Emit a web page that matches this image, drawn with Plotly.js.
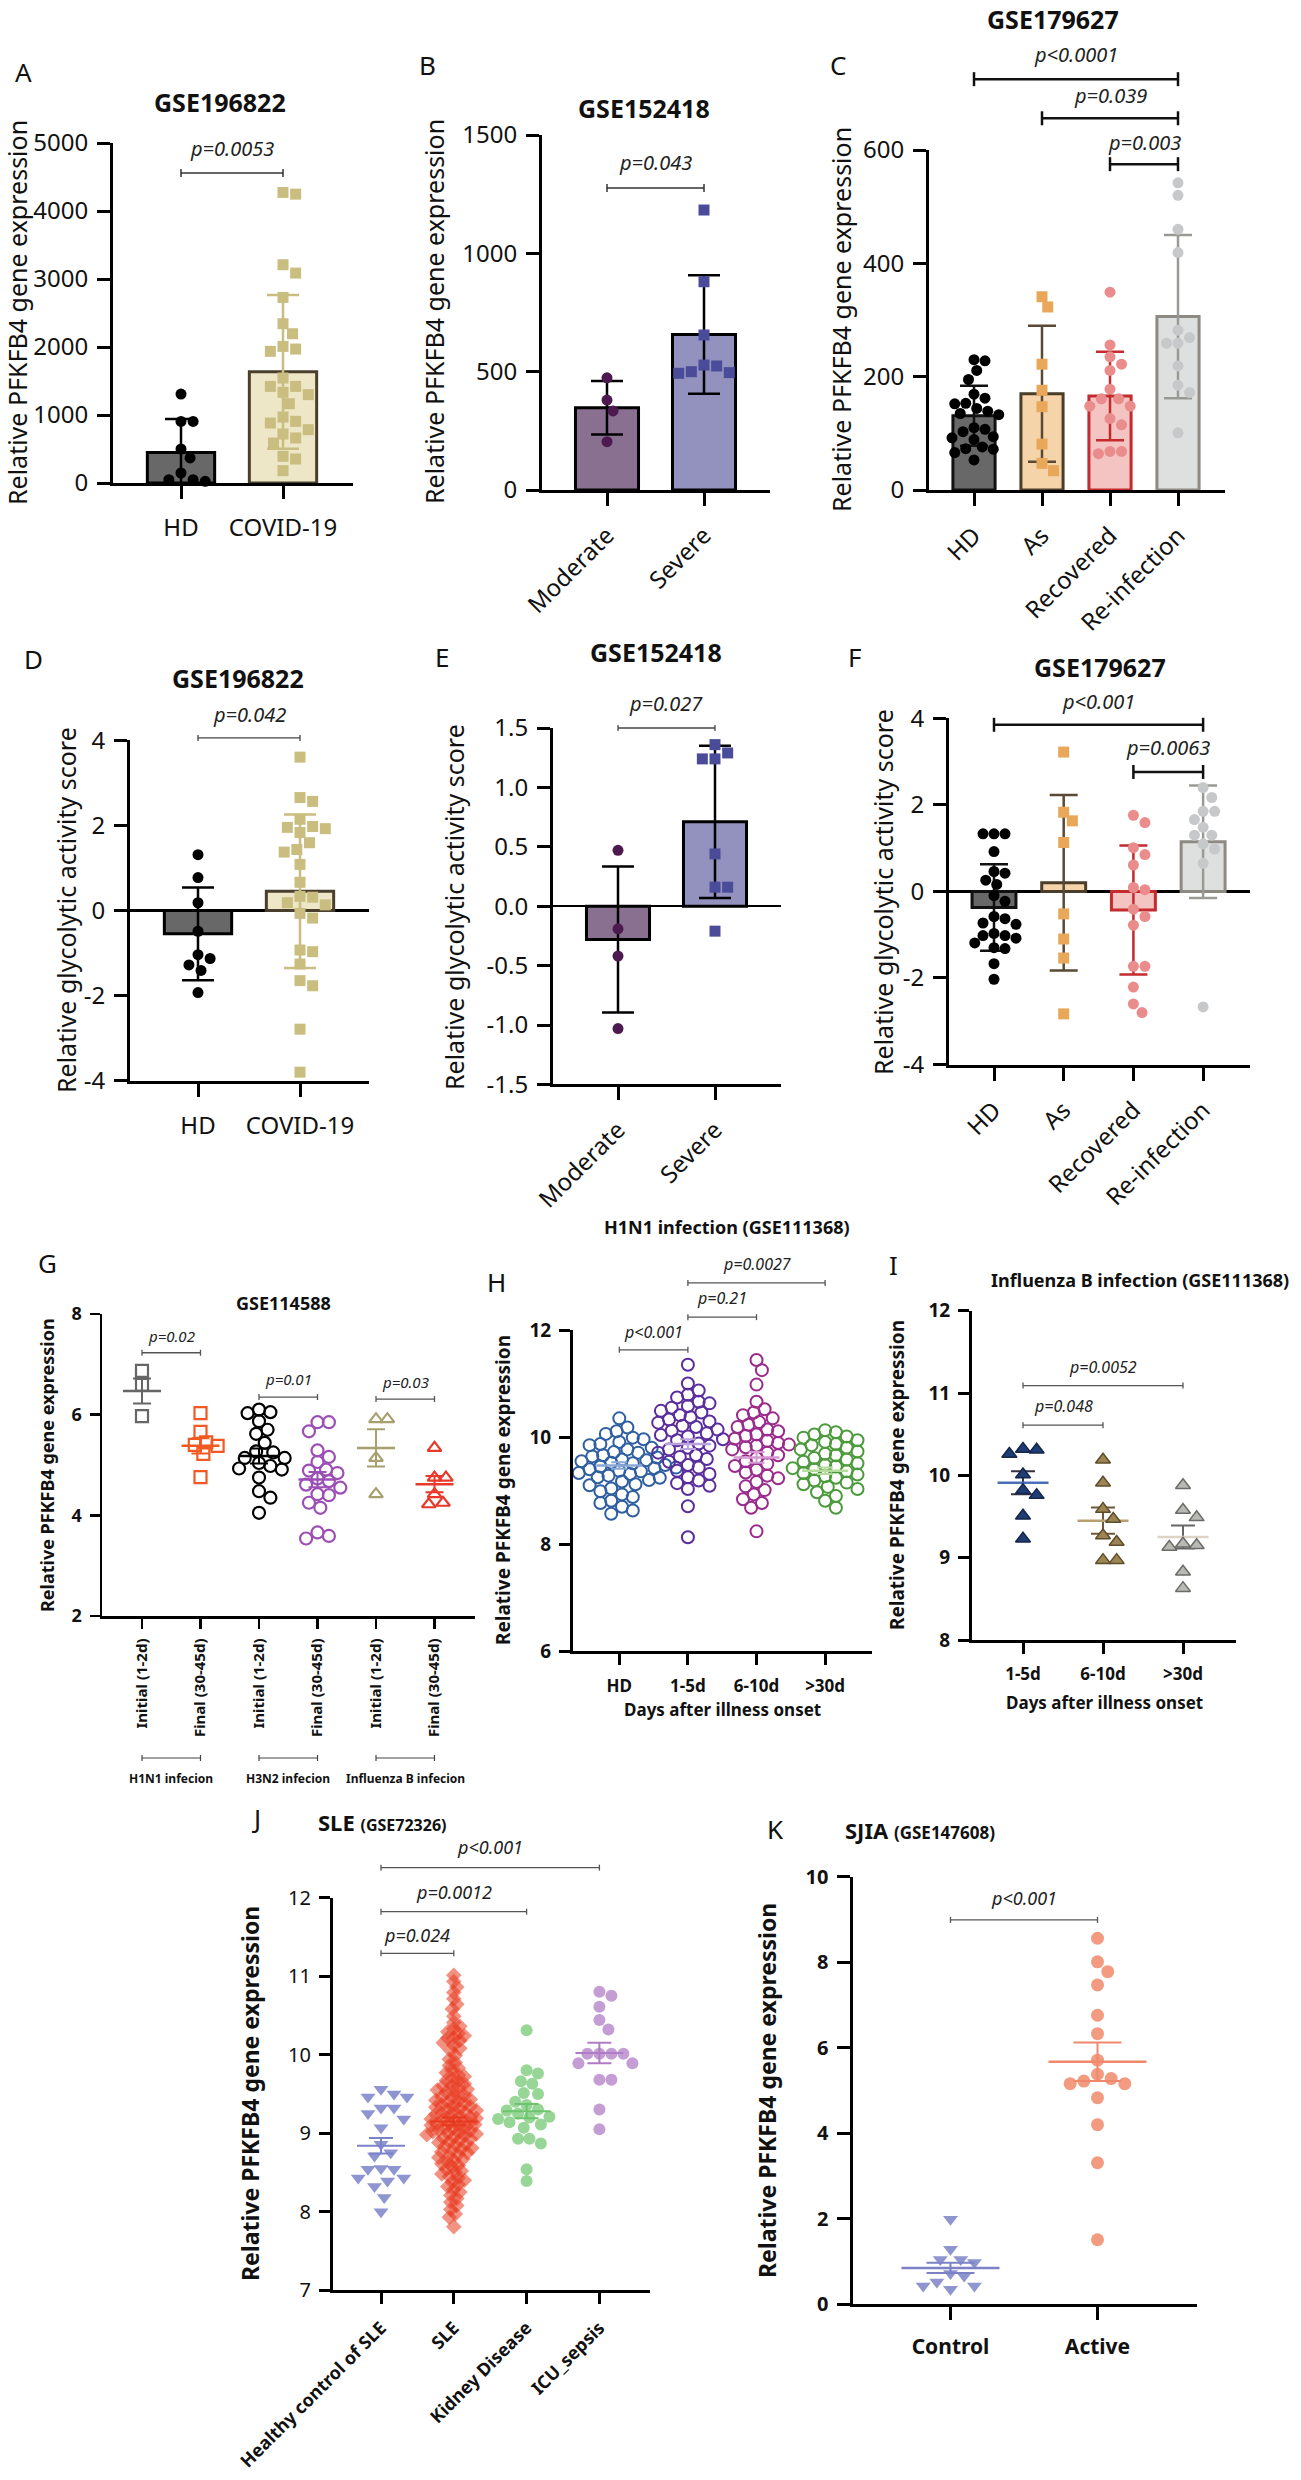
<!DOCTYPE html>
<html><head><meta charset="utf-8">
<script src="https://cdn.plot.ly/plotly-3.0.1.min.js"></script>
<style>html,body{margin:0;padding:0;background:#fff}#chart{width:1301px;height:2480px}</style>
</head><body><div id="chart"></div>
<script>
// ================= DATA =================
// A: GSE196822 PFKFB4
const catA = ['HD', 'COVID-19'];
const meanA = [450, 1635];
const sdA = [490, 1130];
const ptsA_HD = [1308, 906, 906, 500, 368, 147, 49, 49, 25];
const ptsA_COVID = [4273, 4248, 3210, 3087, 2729, 2342, 2195, 2009, 1970, 1936, 1544, 1421, 1421, 1333, 1299, 1166, 970, 907, 882, 784, 720, 662, 588, 392, 353, 181];
const pA = ['p=0.0053'];
// B: GSE152418 PFKFB4
const catB = ['Moderate', 'Severe'];
const meanB = [348, 657];
const sdB = [113, 250];
const ptsB_Mod = [474, 380, 334, 204];
const ptsB_Sev = [1183, 880, 655, 528, 524, 496, 500, 493];
const pB = ['p=0.043'];
// C: GSE179627 PFKFB4
const catC = ['HD', 'As', 'Recovered', 'Re-infection'];
const meanC = [131, 170, 166, 306];
const sdC = [53, 120, 78, 144];
const ptsC_HD = [230, 228, 211, 195, 169, 162, 153, 152, 144, 139, 135, 133, 110, 107, 103, 94, 92, 89, 76, 73, 72, 66, 53];
const ptsC_As = [341, 323, 222, 176, 147, 81, 47, 34];
const ptsC_Rec = [349, 256, 235, 222, 211, 178, 161, 161, 148, 148, 126, 115, 68, 68, 64];
const ptsC_Re = [542, 520, 460, 419, 282, 269, 259, 259, 219, 185, 172, 101];
const pC = ['p<0.0001', 'p=0.039', 'p=0.003'];
// D: GSE196822 glycolytic score
const catD = ['HD', 'COVID-19'];
const meanD = [-0.55, 0.45];
const sdD = [1.09, 1.8];
const ptsD_HD = [1.31, 0.77, 0.18, -0.49, -1.04, -1.13, -1.28, -1.41, -1.93];
const ptsD_COVID = [3.6, 2.65, 2.56, 2.14, 1.97, 1.95, 1.92, 1.83, 1.59, 1.43, 1.37, 1.08, 0.66, 0.33, 0.31, 0.18, 0.13, -0.07, -0.18, -0.93, -0.97, -1.26, -1.65, -1.77, -2.79, -3.8];
const pD = ['p=0.042'];
// E: GSE152418 glycolytic score
const catE = ['Moderate', 'Severe'];
const meanE = [-0.28, 0.71];
const sdE = [0.615, 0.64];
const ptsE_Mod = [0.47, -0.19, -0.42, -1.03];
const ptsE_Sev = [1.36, 1.24, 1.29, 1.24, 0.44, 0.16, 0.16, -0.21];
const pE = ['p=0.027'];
// F: GSE179627 glycolytic score
const catF = ['HD', 'As', 'Recovered', 'Re-infection'];
const meanF = [-0.37, 0.2, -0.43, 1.15];
const sdF = [1.0, 2.03, 1.49, 1.3];
const ptsF_HD = [1.33, 1.33, 1.33, 0.92, 0.46, 0.42, 0.26, 0.16, -0.10, -0.23, -0.58, -0.63, -0.73, -0.76, -0.97, -1.02, -1.02, -1.08, -1.19, -1.30, -1.32, -1.67, -2.03];
const ptsF_As = [3.22, 1.83, 1.63, 1.13, -0.52, -1.10, -1.54, -2.83];
const ptsF_Rec = [1.76, 1.59, 1.01, 0.85, 0.61, 0.09, 0.04, -0.41, -0.58, -0.78, -1.73, -1.73, -2.21, -2.6, -2.8];
const ptsF_Re = [2.40, 2.17, 1.85, 1.85, 1.66, 1.48, 1.30, 1.30, 1.10, 0.98, 0.65, -2.67];
const pF = ['p<0.001', 'p=0.0063'];
// G: GSE114588
const catG = ['Initial (1-2d)', 'Final (30-45d)', 'Initial (1-2d)', 'Final (30-45d)', 'Initial (1-2d)', 'Final (30-45d)'];
const groupsG = ['H1N1 infecion', 'H3N2 infecion', 'Influenza B infecion'];
const meanG = [6.47, 5.38, 5.18, 4.71, 5.34, 4.62];
const semG = [0.25, 0.15, 0.15, 0.15, 0.37, 0.16];
const ptsG0 = [6.87, 6.59, 5.97];
const ptsG1 = [6.03, 5.66, 5.45, 5.40, 5.38, 5.22, 4.76];
const ptsG2 = [6.10, 6.05, 6.03, 5.87, 5.70, 5.62, 5.44, 5.27, 5.25, 5.14, 5.14, 5.04, 4.98, 4.93, 4.91, 4.75, 4.48, 4.35, 4.05];
const ptsG3 = [5.85, 5.85, 5.67, 5.29, 5.16, 5.06, 4.91, 4.89, 4.84, 4.73, 4.68, 4.61, 4.55, 4.42, 4.40, 4.25, 4.15, 3.66, 3.59, 3.54];
const ptsG4 = [5.91, 5.91, 5.14, 4.42];
const ptsG5 = [5.34, 4.75, 4.75, 4.42, 4.22, 4.25];
const pG = ['p=0.02', 'p=0.01', 'p=0.03'];
// H: H1N1 GSE111368
const catH = ['HD', '1-5d', '6-10d', '>30d'];
const meanH = [9.47, 9.87, 9.62, 9.37];
const semH = [0.06, 0.09, 0.1, 0.06];
const ptsH_HD = [10.35, 10.18, 10.11, 10.06, 9.99, 9.96, 9.91, 9.87, 9.85, 9.80, 9.77, 9.72, 9.71, 9.66, 9.64, 9.62, 9.58, 9.57, 9.55, 9.52, 9.51, 9.48, 9.47, 9.45, 9.43, 9.42, 9.40, 9.37, 9.36, 9.33, 9.31, 9.28, 9.25, 9.24, 9.20, 9.17, 9.12, 9.10, 9.04, 8.99, 8.93, 8.88, 8.81, 8.77, 8.70, 8.63, 8.57];
const ptsH_15 = [11.35, 11.00, 10.87, 10.79, 10.74, 10.66, 10.63, 10.58, 10.55, 10.49, 10.46, 10.41, 10.37, 10.33, 10.29, 10.27, 10.21, 10.19, 10.14, 10.12, 10.07, 10.04, 10.01, 9.96, 9.94, 9.88, 9.84, 9.80, 9.77, 9.71, 9.66, 9.63, 9.59, 9.54, 9.48, 9.43, 9.37, 9.31, 9.25, 9.19, 9.14, 9.09, 9.03, 8.71, 8.13];
const ptsH_610 = [11.44, 11.25, 10.98, 10.66, 10.52, 10.46, 10.41, 10.35, 10.28, 10.23, 10.19, 10.14, 10.11, 10.05, 10.02, 9.97, 9.93, 9.89, 9.86, 9.84, 9.81, 9.77, 9.71, 9.66, 9.61, 9.55, 9.50, 9.46, 9.39, 9.34, 9.28, 9.23, 9.16, 9.08, 9.01, 8.93, 8.84, 8.77, 8.68, 8.24];
const ptsH_30 = [10.13, 10.09, 10.05, 10.01, 9.99, 9.94, 9.91, 9.87, 9.85, 9.80, 9.77, 9.73, 9.69, 9.66, 9.61, 9.58, 9.54, 9.51, 9.48, 9.45, 9.42, 9.40, 9.36, 9.33, 9.30, 9.27, 9.24, 9.19, 9.15, 9.12, 9.07, 9.03, 8.97, 8.90, 8.81, 8.68];
const pH = ['p<0.001', 'p=0.21', 'p=0.0027'];
// I: Influenza B GSE111368
const catI = ['1-5d', '6-10d', '>30d'];
const meanI = [9.91, 9.45, 9.25];
const semI = [0.14, 0.16, 0.14];
const ptsI_15 = [10.32, 10.26, 10.31, 10.01, 9.76, 9.82, 9.51, 9.23];
const ptsI_610 = [10.19, 9.91, 9.59, 9.47, 9.27, 9.19, 8.97, 8.97];
const ptsI_30 = [9.88, 9.58, 9.49, 9.15, 9.17, 9.13, 8.83, 8.63];
const pI = ['p=0.048', 'p=0.0052'];
// J: SLE GSE72326
const catJ = ['Healthy control of SLE', 'SLE', 'Kidney Disease', 'ICU_sepsis'];
const meanJ = [8.84, 9.15, 9.28, 10.02];
const semJ = [0.1, 0.05, 0.09, 0.13];
const ptsJ_HC = [9.56, 9.50, 9.46, 9.46, 9.32, 9.32, 9.25, 9.18, 9.07, 8.86, 8.75, 8.71, 8.55, 8.54, 8.54, 8.43, 8.43, 8.39, 8.32, 8.18, 8.00];
const ptsJ_SLE = [11.01, 10.93, 10.86, 10.79, 10.71, 10.64, 10.58, 10.49,
  10.41, 10.36, 10.33, 10.29, 10.27, 10.24, 10.21, 10.21, 10.18, 10.15, 10.12, 10.08, 10.05,
  9.99, 9.94, 9.90, 9.86, 9.83, 9.79,
  9.77, 9.74, 9.72, 9.69, 9.67, 9.66, 9.63, 9.61, 9.60, 9.58, 9.56, 9.55, 9.53, 9.52,
  9.49, 9.48, 9.46, 9.45, 9.43, 9.42, 9.41, 9.39, 9.38, 9.36, 9.35, 9.34, 9.33, 9.31, 9.30, 9.29, 9.27, 9.26, 9.25, 9.24, 9.22, 9.21, 9.20,
  9.19, 9.18, 9.17, 9.16, 9.15, 9.13, 9.12, 9.12, 9.11, 9.10, 9.09, 9.07, 9.06, 9.05, 9.04, 9.03, 9.02, 9.01, 9.00, 8.99, 8.98, 8.97, 8.95, 8.94, 8.93, 8.91,
  8.89, 8.88, 8.86, 8.85, 8.83, 8.81, 8.80, 8.78, 8.76, 8.75, 8.73, 8.71, 8.69, 8.67, 8.65, 8.63, 8.61,
  8.59, 8.57, 8.54, 8.52, 8.50, 8.48, 8.45, 8.43, 8.40, 8.38, 8.35, 8.32,
  8.28, 8.25, 8.21, 8.17, 8.12, 8.08, 8.03, 7.97, 7.93, 7.81];
const ptsJ_KD = [10.31, 9.80, 9.76, 9.66, 9.63, 9.51, 9.50, 9.40, 9.36, 9.30, 9.29, 9.25, 9.21, 9.20, 9.18, 9.14, 9.11, 9.07, 8.93, 8.93, 8.87, 8.54, 8.39];
const ptsJ_ICU = [10.80, 10.75, 10.61, 10.44, 10.32, 10.01, 10.01, 10.01, 10.01, 9.89, 9.89, 9.68, 9.68, 9.30, 9.05];
const pJ = ['p=0.024', 'p=0.0012', 'p<0.001'];
// K: SJIA GSE147608
const catK = ['Control', 'Active'];
const meanK = [0.85, 5.67];
const semK = [0.12, 0.45];
const ptsK_C = [1.99, 1.29, 1.05, 1.05, 0.98, 0.66, 0.52, 0.72, 0.43, 0.43, 0.35];
const ptsK_A = [8.56, 8.01, 7.78, 7.47, 6.76, 6.33, 5.71, 5.38, 5.28, 5.16, 5.22, 5.16, 4.83, 4.20, 3.31, 1.51];
const pK = ['p<0.001'];

// ================= LAYOUT / STYLE =================
const W = 1301, H = 2480;
const FONT = "'Noto Sans', 'DejaVu Sans', sans-serif";
const layout = {
  width: W, height: H, margin: {l: 0, r: 0, t: 0, b: 0},
  paper_bgcolor: '#fff', plot_bgcolor: 'rgba(0,0,0,0)', showlegend: false,
  barmode: 'overlay', font: {family: FONT, color: '#111'},
  annotations: [], shapes: []
};
const traces = [];
const sfx = n => (n === 1 ? '' : String(n));

// panel geometry (pixel frames of each plot)
const G = {
  A: {n: 1, axL: 113, axR: 353, yB: 483, yT: 143, v0: 0, v1: 5000, c0: 181, step: 102, cats: catA, yt: [0, 1000, 2000, 3000, 4000, 5000], lw: 3, tl: 13, xa: 0, xs: 8, fs: 24},
  B: {n: 2, axL: 542, axR: 770, yB: 490, yT: 135, v0: 0, v1: 1500, c0: 607, step: 97, cats: catB, yt: [0, 500, 1000, 1500], lw: 3, tl: 13, xa: -45, xs: 6, fs: 24},
  C: {n: 3, axL: 929, axR: 1225, yB: 490, yT: 150, v0: 0, v1: 600, c0: 974, step: 68, cats: catC, yt: [0, 200, 400, 600], lw: 3, tl: 13, xa: -45, xs: 6, fs: 24},
  D: {n: 4, axL: 130, axR: 369, yB: 1080.7, yT: 740.1, v0: -4, v1: 4, c0: 198, step: 102, cats: catD, yt: [-4, -2, 0, 2, 4], ytt: ['-4', '-2', '0', '2', '4'], lw: 3, tl: 13, xa: 0, xs: 8, fs: 24, zero: true},
  E: {n: 5, axL: 553, axR: 781, yB: 1084.4, yT: 728, v0: -1.5, v1: 1.5, c0: 618, step: 97, cats: catE, yt: [-1.5, -1, -0.5, 0, 0.5, 1, 1.5], ytt: ['-1.5', '-1.0', '-0.5', '0.0', '0.5', '1.0', '1.5'], lw: 3, tl: 13, xa: -45, xs: 6, fs: 24, zero: true},
  F: {n: 6, axL: 949, axR: 1250, yB: 1064.5, yT: 718.3, v0: -4, v1: 4, c0: 994, step: 69.7, cats: catF, yt: [-4, -2, 0, 2, 4], ytt: ['-4', '-2', '0', '2', '4'], lw: 3, tl: 13, xa: -45, xs: 6, fs: 24, zero: true},
  G: {n: 7, axL: 102, axR: 475, yB: 1616, yT: 1314, v0: 2, v1: 8, c0: 142, step: 58.5, cats: catG, yt: [2, 4, 6, 8], lw: 2.5, tl: 10, xa: -90, xs: 4, fs: 18, bold: true, xfs: 15},
  H: {n: 8, axL: 573, axR: 872, yB: 1651.3, yT: 1330, v0: 6, v1: 12, c0: 619.3, step: 68.6, cats: catH, yt: [6, 8, 10, 12], lw: 3, tl: 11, xa: 0, xs: 6, fs: 19, bold: true, xfs: 17},
  I: {n: 9, axL: 972, axR: 1236, yB: 1640, yT: 1310.7, v0: 8, v1: 12, c0: 1023, step: 80, cats: catI, yt: [8, 9, 10, 11, 12], lw: 3, tl: 11, xa: 0, xs: 6, fs: 19, bold: true, xfs: 17},
  J: {n: 10, axL: 333, axR: 650, yB: 2290.3, yT: 1897.5, v0: 7, v1: 12, c0: 381, step: 72.8, cats: catJ, yt: [7, 8, 9, 10, 11, 12], lw: 3, tl: 11, xa: -45, xs: 6, fs: 20, xbold: true, xfs: 18},
  K: {n: 11, axL: 852.5, axR: 1196.5, yB: 2304.3, yT: 1876.7, v0: 0, v1: 10, c0: 950.5, step: 147, cats: catK, yt: [0, 2, 4, 6, 8, 10], lw: 3, tl: 13, xa: 0, xs: 8, fs: 20, bold: true, xfs: 21}
};

const Xp = (g, i) => g.c0 + i * g.step;
const Yp = (g, v) => g.yB - (v - g.v0) * (g.yB - g.yT) / (g.v1 - g.v0);

function setupAxes(g) {
  const s = sfx(g.n);
  const yfont = {family: FONT, size: g.fs, color: '#111', weight: g.bold ? 700 : 400};
  const xfont = {family: FONT, size: g.xfs || g.fs, color: '#111', weight: (g.bold || g.xbold) ? 700 : 400};
  layout['xaxis' + s] = {
    domain: [g.axL / W, g.axR / W], anchor: 'y' + s,
    range: [(g.axL - g.c0) / g.step, (g.axR - g.c0) / g.step],
    tickmode: 'array', tickvals: g.cats.map((c, i) => i), ticktext: g.cats,
    showline: true, linecolor: '#000', linewidth: g.lw,
    ticks: 'outside', ticklen: g.tl, tickwidth: g.lw, tickcolor: '#000',
    tickangle: g.xa, tickfont: xfont, ticklabelstandoff: g.xs,
    showgrid: false, zeroline: false, fixedrange: true
  };
  layout['yaxis' + s] = {
    domain: [1 - g.yB / H, 1 - g.yT / H], anchor: 'x' + s, range: [g.v0, g.v1],
    tickmode: 'array', tickvals: g.yt, ticktext: g.ytt || g.yt.map(String),
    showline: true, linecolor: '#000', linewidth: g.lw,
    ticks: 'outside', ticklen: g.tl, tickwidth: g.lw, tickcolor: '#000',
    tickfont: yfont, ticklabelstandoff: 4,
    showgrid: false, zeroline: !!g.zero, zerolinecolor: '#000', zerolinewidth: 2.5, fixedrange: true
  };
}

// beeswarm offsets computed in pixel space, returned in category units
function swarm(vals, g, diam, gap) {
  const sy = (g.yB - g.yT) / (g.v1 - g.v0);
  const d = diam * gap;
  const order = vals.map((v, k) => k).sort((a, b) => vals[b] - vals[a]);
  const placed = [];
  const off = new Array(vals.length).fill(0);
  order.forEach(k => {
    const y = vals[k] * sy;
    let chosen = 0;
    for (let s = 0; s < 600; s++) {
      const c = s === 0 ? 0 : (s % 2 ? 1 : -1) * Math.ceil(s / 2) * d * 0.25;
      let ok = true;
      for (const p of placed) {
        const dx = p.x - c, dy = p.y - y;
        if (dx * dx + dy * dy < d * d - 0.01) { ok = false; break; }
      }
      if (ok) { chosen = c; break; }
    }
    placed.push({x: chosen, y});
    off[k] = chosen / g.step;
  });
  return off;
}

function addBars(g, means, sds, st, wfrac) {
  const s = sfx(g.n);
  means.forEach((m, i) => {
    traces.push({
      type: 'bar', x: [i], y: [m], width: [wfrac], xaxis: 'x' + s, yaxis: 'y' + s,
      marker: {color: st[i].fill, line: {color: st[i].border, width: 3}},
      error_y: {type: 'data', array: [sds[i]], visible: true, color: st[i].err, thickness: 2.5, width: st[i].cap},
      hoverinfo: 'skip'
    });
  });
}

function addPoints(g, vals, i, mk, gap) {
  const s = sfx(g.n);
  const off = swarm(vals, g, mk.size, gap);
  traces.push({
    type: 'scatter', mode: 'markers', x: vals.map((v, k) => i + off[k]), y: vals,
    xaxis: 'x' + s, yaxis: 'y' + s, cliponaxis: false, hoverinfo: 'skip',
    marker: {symbol: mk.symbol, size: mk.size, color: mk.color, opacity: mk.opacity || 1,
      line: {color: mk.line || mk.color, width: mk.lw !== undefined ? mk.lw : 0}}
  });
}

function addMean(g, i, mean, sem, color, lenPx, capPx, errColor, lw) {
  const s = sfx(g.n);
  traces.push({
    type: 'scatter', mode: 'markers', x: [i], y: [mean], xaxis: 'x' + s, yaxis: 'y' + s,
    cliponaxis: false, hoverinfo: 'skip',
    marker: {symbol: 'line-ew', size: lenPx / 1.4, color: color, line: {color: color, width: lw || 2.5}},
    error_y: {type: 'data', array: [sem], visible: true, color: errColor || color, thickness: 2, width: capPx}
  });
}

function txt(x, y, text, size, o) {
  o = o || {};
  layout.annotations.push({
    xref: 'paper', yref: 'paper', x: x / W, y: 1 - y / H, text: text, showarrow: false,
    font: {family: FONT, size: size, color: o.color || '#111', weight: o.bold ? 700 : 400},
    xanchor: o.xanchor || 'center', yanchor: 'middle', textangle: o.angle || 0
  });
}

function seg(x0, y0, x1, y1, color, w) {
  layout.shapes.push({type: 'line', xref: 'paper', yref: 'paper', x0: x0 / W, x1: x1 / W, y0: 1 - y0 / H, y1: 1 - y1 / H, line: {color: color, width: w}});
}

// bracket: [fromIdx, toIdx, bracketLevel, textLevel] in data units
function addBrackets(g, list, labels, st) {
  list.forEach((b, k) => {
    const x0 = Xp(g, b[0]), x1 = Xp(g, b[1]), y = Yp(g, b[2]);
    seg(x0, y, x1, y, st.color, st.w);
    seg(x0, y - st.t, x0, y + st.t, st.color, st.w);
    seg(x1, y - st.t, x1, y + st.t, st.color, st.w);
    txt((x0 + x1) / 2, Yp(g, b[3]), '<i>' + labels[k] + '</i>', st.fs, {color: '#222'});
  });
}

Object.values(G).forEach(setupAxes);

// ---------- styles ----------
const stBig = {color: '#333', w: 1.5, t: 4, fs: 20};
const stThick = {color: '#111', w: 2.5, t: 7, fs: 20};
const stThin = {color: '#444', w: 1.3, t: 3, fs: 20};
const stSmall = {color: '#555', w: 1.3, t: 3, fs: 15};
const stMid = {color: '#555', w: 1.3, t: 3, fs: 16};
const stJK = {color: '#555', w: 1.3, t: 3, fs: 18};

const barsHDCov = [
  {fill: '#686868', border: '#000', err: '#000', cap: 16},
  {fill: '#ede7c8', border: '#4a3f2c', err: '#c9bd80', cap: 16}];
const barsModSev = [
  {fill: '#8a7090', border: '#000', err: '#000', cap: 16},
  {fill: '#9391bd', border: '#000', err: '#000', cap: 16}];
const bars4 = [
  {fill: '#686868', border: '#111', err: '#111', cap: 14},
  {fill: '#f6d4aa', border: '#4a3d2a', err: '#5a4a35', cap: 14},
  {fill: '#f3c4c1', border: '#c42a2e', err: '#c42a2e', cap: 14},
  {fill: '#dedfdf', border: '#8c8a83', err: '#9a9a95', cap: 14}];
const mkBlack = {symbol: 'circle', size: 11, color: '#000'};
const mkTan = {symbol: 'square', size: 11, color: '#c9bd7f'};
const mkPurp = {symbol: 'circle', size: 11, color: '#4d1a4f'};
const mkBlue = {symbol: 'square', size: 11, color: '#4a4c9a'};
const mkOr = {symbol: 'square', size: 11, color: '#e9a75a'};
const mkSal = {symbol: 'circle', size: 11, color: '#e98c8b'};
const mkGray = {symbol: 'circle', size: 11, color: '#c6c8ca'};

// ---------- A ----------
addBars(G.A, meanA, sdA, barsHDCov, 0.66);
addPoints(G.A, ptsA_HD, 0, mkBlack, 1.1);
addPoints(G.A, ptsA_COVID, 1, mkTan, 1.15);
addBrackets(G.A, [[0, 1, 4560, 4926]], pA, stBig);
// ---------- B ----------
addBars(G.B, meanB, sdB, barsModSev, 0.65);
addPoints(G.B, ptsB_Mod, 0, mkPurp, 1.1);
addPoints(G.B, ptsB_Sev, 1, mkBlue, 1.15);
addBrackets(G.B, [[0, 1, 1276, 1382]], pB, stBig);
// ---------- C ----------
addBars(G.C, meanC, sdC, bars4, 0.62);
addPoints(G.C, ptsC_HD, 0, mkBlack, 1.0);
addPoints(G.C, ptsC_As, 1, mkOr, 1.05);
addPoints(G.C, ptsC_Rec, 2, mkSal, 1.05);
addPoints(G.C, ptsC_Re, 3, mkGray, 1.05);
addBrackets(G.C, [[0, 3, 725, 768], [1, 3, 656, 697], [2, 3, 575, 614]], pC, stThick);
// ---------- D ----------
addBars(G.D, meanD, sdD, barsHDCov, 0.66);
addPoints(G.D, ptsD_HD, 0, mkBlack, 1.1);
addPoints(G.D, ptsD_COVID, 1, mkTan, 1.15);
addBrackets(G.D, [[0, 1, 4.05, 4.59]], pD, stThin);
// ---------- E ----------
addBars(G.E, meanE, sdE, barsModSev, 0.65);
addPoints(G.E, ptsE_Mod, 0, mkPurp, 1.1);
addPoints(G.E, ptsE_Sev, 1, mkBlue, 1.15);
addBrackets(G.E, [[0, 1, 1.5, 1.71]], pE, stThin);
// ---------- F ----------
addBars(G.F, meanF, sdF, bars4, 0.63);
addPoints(G.F, ptsF_HD, 0, mkBlack, 1.0);
addPoints(G.F, ptsF_As, 1, mkOr, 1.05);
addPoints(G.F, ptsF_Rec, 2, mkSal, 1.05);
addPoints(G.F, ptsF_Re, 3, mkGray, 1.05);
addBrackets(G.F, [[0, 3, 3.85, 4.38], [2, 3, 2.76, 3.32]], pF, stThick);
// ---------- G ----------
const colG = ['#666666', '#f05a22', '#000000', '#9b4fb5', '#a89f6e', '#e8392b'];
const symG = ['square-open', 'square-open', 'circle-open', 'circle-open', 'triangle-up-open', 'triangle-up-open'];
[ptsG0, ptsG1, ptsG2, ptsG3, ptsG4, ptsG5].forEach((v, i) => {
  addPoints(G.G, v, i, {symbol: symG[i], size: 12, color: colG[i], lw: 2.2}, 0.95);
  addMean(G.G, i, meanG[i], semG[i], colG[i], 38, 9);
});
addBrackets(G.G, [[0, 1, 7.23, 7.56], [2, 3, 6.35, 6.71], [4, 5, 6.31, 6.65]], pG, stSmall);
groupsG.forEach((lab, k) => {
  const x0 = Xp(G.G, 2 * k), x1 = Xp(G.G, 2 * k + 1);
  seg(x0, 1758, x1, 1758, '#444', 1.2);
  seg(x0, 1755, x0, 1761, '#444', 1.2);
  seg(x1, 1755, x1, 1761, '#444', 1.2);
  txt((x0 + x1) / 2, 1778.5, lab, 12, {bold: true});
});
// ---------- H ----------
const colH = ['#2f5fa0', '#5a2d9c', '#9a2a8c', '#4b9a3b'];
const meanColH = ['#8aa8d6', '#b9a2dd', '#d69ad2', '#b5dc9c'];
[ptsH_HD, ptsH_15, ptsH_610, ptsH_30].forEach((v, i) => {
  addPoints(G.H, v, i, {symbol: 'circle-open', size: 12, color: colH[i], lw: 2}, 0.9);
  addMean(G.H, i, meanH[i], semH[i], meanColH[i], 46, 8);
});
addBrackets(G.H, [[0, 1, 11.63, 11.96], [1, 2, 12.24, 12.6], [1, 3, 12.88, 13.23]], pH, stMid);
// ---------- I ----------
const fillI = ['#1f3d75', '#9c8553', '#b8b8b4'];
const lineI = ['#14264a', '#5e4d2c', '#6b6b68'];
const meanColI = ['#4a70b8', '#b8a070', '#ddd4c6'];
const semColI = ['#333344', '#6e5a3a', '#666666'];
[ptsI_15, ptsI_610, ptsI_30].forEach((v, i) => {
  addMean(G.I, i, meanI[i], semI[i], meanColI[i], 51, 12, semColI[i]);
  addPoints(G.I, v, i, {symbol: 'triangle-up', size: 13, color: fillI[i], line: lineI[i], lw: 1.5}, 1.05);
});
addBrackets(G.I, [[0, 1, 10.61, 10.84], [0, 2, 11.09, 11.32]], pI, stMid);
// ---------- J ----------
const mkJ = [
  {symbol: 'triangle-down', size: 13, color: '#7a82c8', opacity: 0.85},
  {symbol: 'diamond', size: 12, color: '#e8381e', opacity: 0.55},
  {symbol: 'circle', size: 12, color: '#6cc46c', opacity: 0.7},
  {symbol: 'circle', size: 12, color: '#b07cc6', opacity: 0.75}];
const gapJ = [1.0, 0.5, 0.95, 1.0];
[ptsJ_HC, ptsJ_SLE, ptsJ_KD, ptsJ_ICU].forEach((v, i) => {
  addPoints(G.J, v, i, mkJ[i], gapJ[i]);
  addMean(G.J, i, meanJ[i], semJ[i], mkJ[i].color, 48, 12, mkJ[i].color, 2);
});
addBrackets(G.J, [[0, 1, 11.29, 11.52], [0, 2, 11.82, 12.07], [0, 3, 12.38, 12.64]], pJ, stJK);
// ---------- K ----------
const mkK = [
  {symbol: 'triangle-down', size: 13, color: '#7b82c6', opacity: 0.85},
  {symbol: 'circle', size: 13, color: '#f0896b', opacity: 0.85}];
[ptsK_C, ptsK_A].forEach((v, i) => {
  addPoints(G.K, v, i, mkK[i], 1.05);
  addMean(G.K, i, meanK[i], semK[i], mkK[i].color, 98, 24, mkK[i].color, 2.5);
});
addBrackets(G.K, [[0, 1, 8.99, 9.51]], pK, stJK);

// ---------- titles, letters, axis titles ----------
const T = [
  [220, 102, 'GSE196822', 25], [644, 108, 'GSE152418', 25], [1053, 19, 'GSE179627', 25],
  [238, 678, 'GSE196822', 25], [656, 652, 'GSE152418', 25], [1100, 667, 'GSE179627', 25],
  [283, 1303, 'GSE114588', 18], [727, 1227, 'H1N1 infection (GSE111368)', 18],
  [1140, 1280, 'Influenza B infection (GSE111368)', 18]];
T.forEach(t => txt(t[0], t[1], t[2], t[3], {bold: true}));
txt(316, 1822, '<span style="font-size:22px">SLE</span> <span style="font-size:16px">(GSE72326)</span>', 22, {bold: true, xanchor: 'left'});
txt(843, 1830, '<span style="font-size:22px">SJIA</span> <span style="font-size:17px">(GSE147608)</span>', 22, {bold: true, xanchor: 'left'});

const L = [['A', 23, 72], ['B', 427, 65], ['C', 838, 65], ['D', 33, 659], ['E', 442, 657], ['F', 855, 657],
  ['G', 48, 1263], ['H', 496, 1282], ['I', 893, 1265], ['J', 256, 1818], ['K', 775, 1829]];
L.forEach(l => txt(l[1], l[2], l[0], 26));

const yExp = 'Relative PFKFB4 gene expression';
const yGly = 'Relative glycolytic activity score';
const YT = [
  [17, 313, yExp, 25, false], [434, 312, yExp, 25, false], [841, 320, yExp, 25, false],
  [66, 910, yGly, 25, false], [454, 907, yGly, 25, false], [883, 892, yGly, 25, false],
  [47, 1465, yExp, 18, true], [503, 1490, yExp, 19, true], [897, 1475, yExp, 19, true],
  [250, 2094, yExp, 23, true], [767, 2090, yExp, 23, true]];
YT.forEach(t => txt(t[0], t[1], t[2], t[3], {angle: -90, bold: t[4]}));

txt(722, 1709, 'Days after illness onset', 17, {bold: true});
txt(1104, 1702, 'Days after illness onset', 17, {bold: true});

Plotly.newPlot('chart', traces, layout, {staticPlot: true, displayModeBar: false});
</script></body></html>
